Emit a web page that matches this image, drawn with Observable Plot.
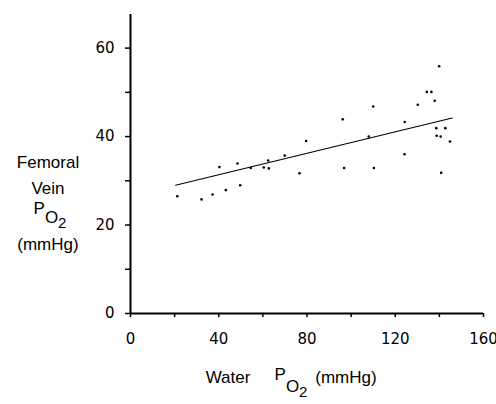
<!DOCTYPE html>
<html><head>
<meta charset="utf-8">
<script src="https://cdn.jsdelivr.net/npm/d3@7"></script>
<script src="https://cdn.jsdelivr.net/npm/@observablehq/plot@0.6"></script>
<style>body{margin:0;background:#fff}</style>
</head><body><div id="chart"></div>
<script>
// Water PO2 (mmHg) vs femoral vein PO2 (mmHg)
const waterPO2 = [21.2, 32.2, 37.2, 40.3, 43.2, 48.5, 49.7, 54.5, 60.4, 62.4, 62.7, 69.9, 76.6, 79.6,
  96.2, 96.8, 108.0, 110.0, 110.3, 124.3, 124.2, 130.2, 134.3, 136.4, 137.9, 139.9, 138.6, 142.7,
  138.8, 140.6, 144.8, 140.8];
const veinPO2 = [26.5, 25.8, 26.9, 33.1, 27.9, 33.9, 29.0, 32.9, 33.0, 34.6, 32.8, 35.7, 31.7, 39.0,
  43.9, 32.9, 40.0, 46.8, 32.9, 43.3, 36.0, 47.2, 50.1, 50.1, 48.1, 55.9, 41.9, 41.9,
  40.2, 40.0, 38.9, 31.8];
// regression line end points
const fitX = [20.4, 145.8];
const fitY = [29.0, 44.2];
const xTicks = [0, 20, 40, 60, 80, 100, 120, 140, 160];
const xLabels = [0, 40, 80, 120, 160];
const yTicks = [0, 10, 20, 30, 40, 50, 60];
const yLabels = [0, 20, 40, 60];
const yTop = 67.6;

const points = waterPO2.map((x, i) => ({x, y: veinPO2[i]}));
const fit = fitX.map((x, i) => ({x, y: fitY[i]}));

const plot = Plot.plot({
  width: 496, height: 404,
  marginLeft: 130, marginRight: 13, marginTop: 14, marginBottom: 91,
  x: {domain: [0, 160], label: null},
  y: {domain: [0, yTop], label: null},
  style: {fontFamily: "DejaVu Sans", fontSize: "15px", color: "#000", background: "#fff"},
  marks: [
    Plot.axisX({ticks: xTicks, tickSize: 4, tickFormat: () => "", strokeWidth: 1.5, label: null}),
    Plot.axisX({ticks: xLabels, tickSize: 0, tickPadding: 20, label: null}),
    Plot.axisY({ticks: yTicks, tickSize: 5, tickFormat: () => "", strokeWidth: 1.5, label: null}),
    Plot.axisY({ticks: yLabels, tickSize: 0, tickPadding: 16, label: null}),
    Plot.ruleY([0], {strokeWidth: 2}),
    Plot.ruleX([0], {y1: 0, y2: yTop, strokeWidth: 2}),
    Plot.line(fit, {x: "x", y: "y", strokeWidth: 1.2}),
    Plot.dot(points, {x: "x", y: "y", r: 1.3, fill: "black", stroke: null})
  ]
});

const svg = d3.select(plot);
const yl = svg.append("g").attr("font-family", "Liberation Sans").attr("font-size", 17)
  .attr("text-anchor", "middle").attr("fill", "#000");
yl.append("text").attr("x", 48).attr("y", 168).text("Femoral");
yl.append("text").attr("x", 48).attr("y", 194).text("Vein");
const p = yl.append("text").attr("x", 50).attr("y", 214);
p.append("tspan").text("P");
p.append("tspan").attr("dy", 9).text("O");
p.append("tspan").attr("dy", 5).attr("font-size", 15).text("2");
yl.append("text").attr("x", 48).attr("y", 250).text("(mmHg)");

const xl = svg.append("g").attr("font-family", "Liberation Sans").attr("font-size", 17)
  .attr("fill", "#000");
const t = xl.append("text").attr("x", 228).attr("y", 383);
t.append("tspan").text("Water");
t.append("tspan").attr("x", 291).attr("dy", -3).text("P");
t.append("tspan").attr("dy", 12).text("O");
t.append("tspan").attr("dy", 5).attr("font-size", 15).text("2");
t.append("tspan").attr("x", 346).attr("dy", -14).text("(mmHg)");

document.getElementById("chart").appendChild(plot);
</script>
</body></html>
